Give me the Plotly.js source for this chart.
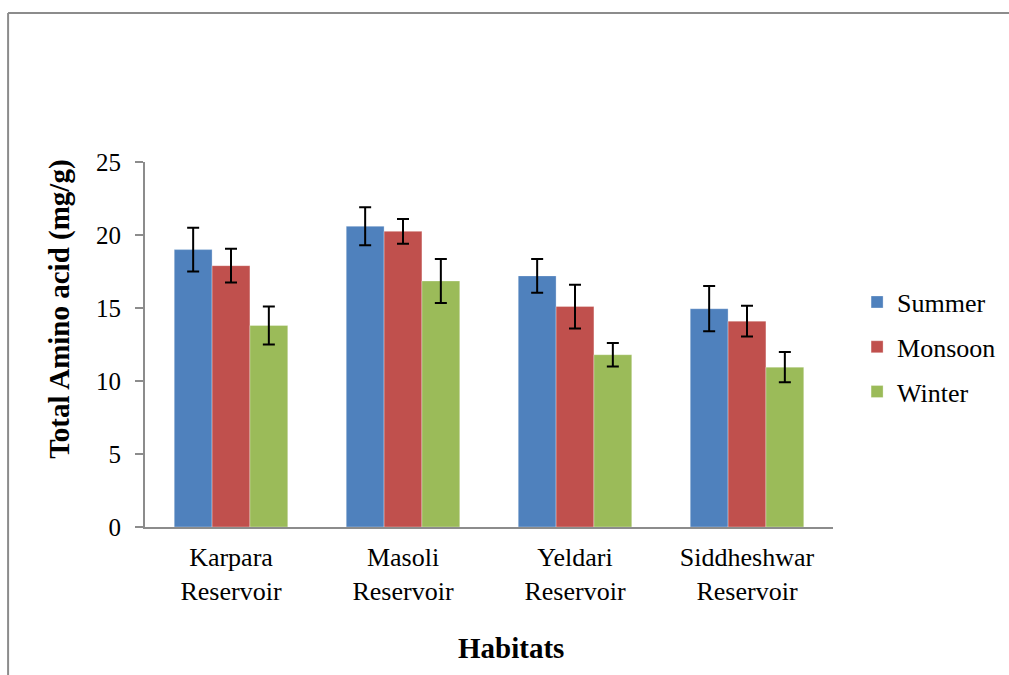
<!DOCTYPE html>
<html>
<head>
<meta charset="utf-8">
<script src="https://cdn.plot.ly/plotly-3.0.1.min.js"></script>
<style>
html,body{margin:0;padding:0;background:#fff;overflow:hidden;width:1009px;height:675px;}
#chart{position:absolute;left:0;top:0;width:1009px;height:675px;}
</style>
</head>
<body>
<div id="chart"></div>
<script>
const categories = ["Karpara<br>Reservoir", "Masoli<br>Reservoir", "Yeldari<br>Reservoir", "Siddheshwar<br>Reservoir"];
const seriesNames = ["Summer", "Monsoon", "Winter"];
const summer = [19.0, 20.6, 17.2, 14.95];
const summerErr = [1.5, 1.3, 1.15, 1.55];
const monsoon = [17.9, 20.25, 15.1, 14.1];
const monsoonErr = [1.15, 0.85, 1.5, 1.05];
const winter = [13.8, 16.85, 11.8, 10.95];
const winterErr = [1.3, 1.5, 0.8, 1.03];
const yTicks = [0, 5, 10, 15, 20, 25];
const xTitle = "Habitats";
const yTitle = "Total Amino acid (mg/g)";

const colors = ["#4F81BD", "#C0504D", "#9BBB59"];
const vals = [summer, monsoon, winter];
const errs = [summerErr, monsoonErr, winterErr];

const traces = seriesNames.map((n, i) => ({
  type: "bar",
  name: n,
  legendgroup: "g" + i,
  x: categories,
  y: vals[i],
  marker: {color: colors[i], line: {color: "rgba(255,255,255,0.5)", width: 0.6}},
  error_y: {type: "data", array: errs[i], visible: true, color: "#000", thickness: 2, width: 6}
}));

const font = "Times New Roman";
const frameColor = "#8c8c8c";
const layout = {
  width: 1009, height: 675,
  margin: {l: 145, r: 176, t: 162, b: 148, autoexpand: false},
  paper_bgcolor: "#fff",
  plot_bgcolor: "rgba(0,0,0,0)",
  barmode: "group",
  bargap: 0.34,
  bargroupgap: 0,
  font: {family: font, color: "#000", size: 24},
  xaxis: {
    showline: true, linecolor: "#8c8c8c", linewidth: 2,
    ticks: "", showgrid: false, zeroline: false,
    tickfont: {size: 26, family: font, color: "#000"},
    ticklabelstandoff: 6
  },
  yaxis: {
    range: [0, 25], tickvals: yTicks,
    showline: true, linecolor: "#8c8c8c", linewidth: 2,
    ticks: "outside", ticklen: 8, tickcolor: "#8c8c8c", tickwidth: 2,
    showgrid: false, zeroline: false,
    tickfont: {size: 25, family: font, color: "#000"},
    ticklabelstandoff: 9
  },
  shapes: [
    {type: "line", xref: "paper", yref: "paper", x0: -0.199, x1: 1.4, y0: 1.408, y1: 1.408,
     line: {color: frameColor, width: 2}},
    {type: "line", xref: "paper", yref: "paper", x0: -0.199, x1: -0.199, y0: 1.408, y1: -0.6,
     line: {color: frameColor, width: 2}}
  ],
  annotations: [
    {text: "<b>" + xTitle + "</b>", xref: "paper", yref: "paper", x: 0.532, y: -0.3315,
     xanchor: "center", yanchor: "middle", showarrow: false, font: {size: 29, family: font, color: "#000"}},
    {text: "<b>" + yTitle + "</b>", xref: "paper", yref: "paper", x: -0.1235, y: 0.595,
     xanchor: "center", yanchor: "middle", textangle: -90, showarrow: false, font: {size: 29, family: font, color: "#000"}}
  ],
  legend: {
    x: 1.035, xanchor: "left", y: 0.493, yanchor: "middle",
    font: {size: 26, family: font, color: "#000"},
    tracegroupgap: 8,
    bgcolor: "rgba(0,0,0,0)"
  },
  showlegend: true
};

Plotly.newPlot("chart", traces, layout, {displayModeBar: false, staticPlot: true});
</script>
</body>
</html>
